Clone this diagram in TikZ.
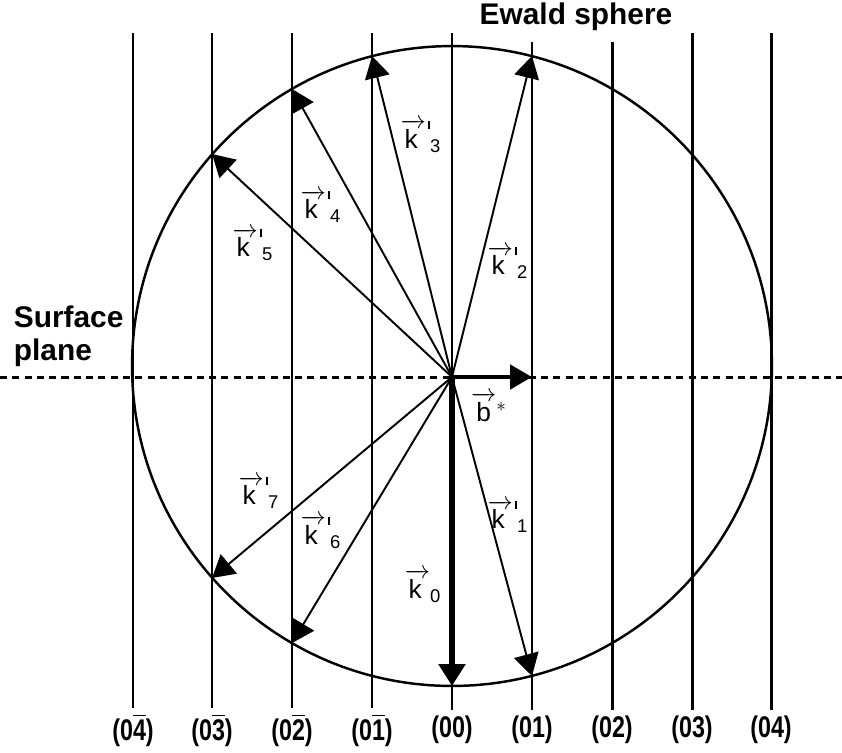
\documentclass[tikz,border=0pt]{standalone}
\usepackage{amsmath}
\usepackage{fontspec}
\setmainfont{Liberation Sans}
\usepackage{tikz}
\usetikzlibrary{arrows.meta}
\newcommand{\kvec}[1]{$\overrightarrow{\text{k}\,}\kern1pt\raisebox{0.72em}{\rule{1.4pt}{4.5pt}}{}_{\text{#1}}$}

\begin{document}
\begin{tikzpicture}[x=0.02cm,y=-0.02cm,
  rod/.style ={line width=1.7pt},
  ring/.style={line width=1.4pt},
  surf/.style={line width=1.7pt,dash pattern=on 4pt off 3pt},
  ray/.style ={-{Triangle[length=0.44cm,width=0.5cm]},line width=1.1pt},
  beam/.style={-{Triangle[length=0.44cm,width=0.52cm]},line width=3.4pt},
  recip/.style={-{Triangle[length=0.44cm,width=0.48cm]},line width=2.8pt},
  lab/.style ={inner sep=1pt,font=\fontsize{15}{17}\selectfont},
  hkl/.style ={inner sep=3pt,font=\fontsize{17}{19}\selectfont\bfseries},
  head/.style={inner sep=2pt,font=\fontsize{17}{19}\selectfont\bfseries}]
\useasboundingbox (0,0) rectangle (842,752);

% crystal truncation rods with their indices
\node[hkl] (rm4) at (133,730) {\scalebox{0.78}[1]{(0$\overline{\text{4}}$)}};
\node[hkl] (rm3) at (212,730) {\scalebox{0.78}[1]{(0$\overline{\text{3}}$)}};
\node[hkl] (rm2) at (292,730) {\scalebox{0.78}[1]{(0$\overline{\text{2}}$)}};
\node[hkl] (rm1) at (372,730) {\scalebox{0.78}[1]{(0$\overline{\text{1}}$)}};
\node[hkl] (r0)  at (452,730) {\scalebox{0.78}[1]{(00)}};
\node[hkl] (r1)  at (532,730) {\scalebox{0.78}[1]{(01)}};
\node[hkl] (r2)  at (612,730) {\scalebox{0.78}[1]{(02)}};
\node[hkl] (r3)  at (692,730) {\scalebox{0.78}[1]{(03)}};
\node[hkl] (r4)  at (771,730) {\scalebox{0.78}[1]{(04)}};

\coordinate (tm4) at (133,33);
\coordinate (tm3) at (212,33);
\coordinate (tm2) at (292,33);
\coordinate (tm1) at (372,33);
\coordinate (t0)  at (452,33);
\coordinate (t1)  at (532,42);
\coordinate (t2)  at (612,42);
\coordinate (t3)  at (692,33);
\coordinate (t4)  at (771,33);

\draw[rod] (tm4) -- (rm4.north);
\draw[rod] (tm3) -- (rm3.north);
\draw[rod] (tm2) -- (rm2.north);
\draw[rod] (tm1) -- (rm1.north);
\draw[rod] (t0)  -- (r0.north);
\draw[rod] (t1)  -- (r1.north);
\draw[rod] (t2)  -- (r2.north);
\draw[rod] (t3)  -- (r3.north);
\draw[rod] (t4)  -- (r4.north);

% Ewald sphere and surface plane
\coordinate (C) at (452,366);
\draw[ring] (C) circle[radius=6.4cm];
\coordinate (sl) at (0,377);
\coordinate (sr) at (842,377);
\draw[surf] (sl) -- (sr);

\node[head] (ew) at (576,17) {Ewald sphere};
\node[head,anchor=west,align=left] (sp) at (10,336) {Surface\\plane};

% wave vectors
\coordinate (O)  at (452,377);
\coordinate (e3) at (372,56);
\coordinate (e2) at (532,56);
\coordinate (e4) at (292,89);
\coordinate (e5) at (212,154);
\coordinate (e7) at (212,578);
\coordinate (e6) at (292,643);
\coordinate (e1) at (532,676);
\coordinate (e0) at (452,686);
\coordinate (eb) at (532,377);

\draw[ray] (O) -- (e3);
\draw[ray] (O) -- (e2);
\draw[ray] (O) -- (e4);
\draw[ray] (O) -- (e5);
\draw[ray] (O) -- (e7);
\draw[ray] (O) -- (e6);
\draw[ray] (O) -- (e1);
\draw[beam] (O) -- (e0);
\draw[recip] (O) -- (eb);

\node[lab] (k3) at (421,136) {\kvec{3}};
\node[lab] (k2) at (508,262) {\kvec{2}};
\node[lab] (k4) at (321,206) {\kvec{4}};
\node[lab] (k5) at (253,244) {\kvec{5}};
\node[lab] (k7) at (259,492) {\kvec{7}};
\node[lab] (k6) at (321,532) {\kvec{6}};
\node[lab] (k1) at (508,516) {\kvec{1}};
\node[lab] (k0) at (423,586) {$\overrightarrow{\text{k}\,}_{\text{0}}$};
\node[lab] (bs) at (489,407) {$\overrightarrow{\text{b}}{}^{*}$};
\end{tikzpicture}
\end{document}
